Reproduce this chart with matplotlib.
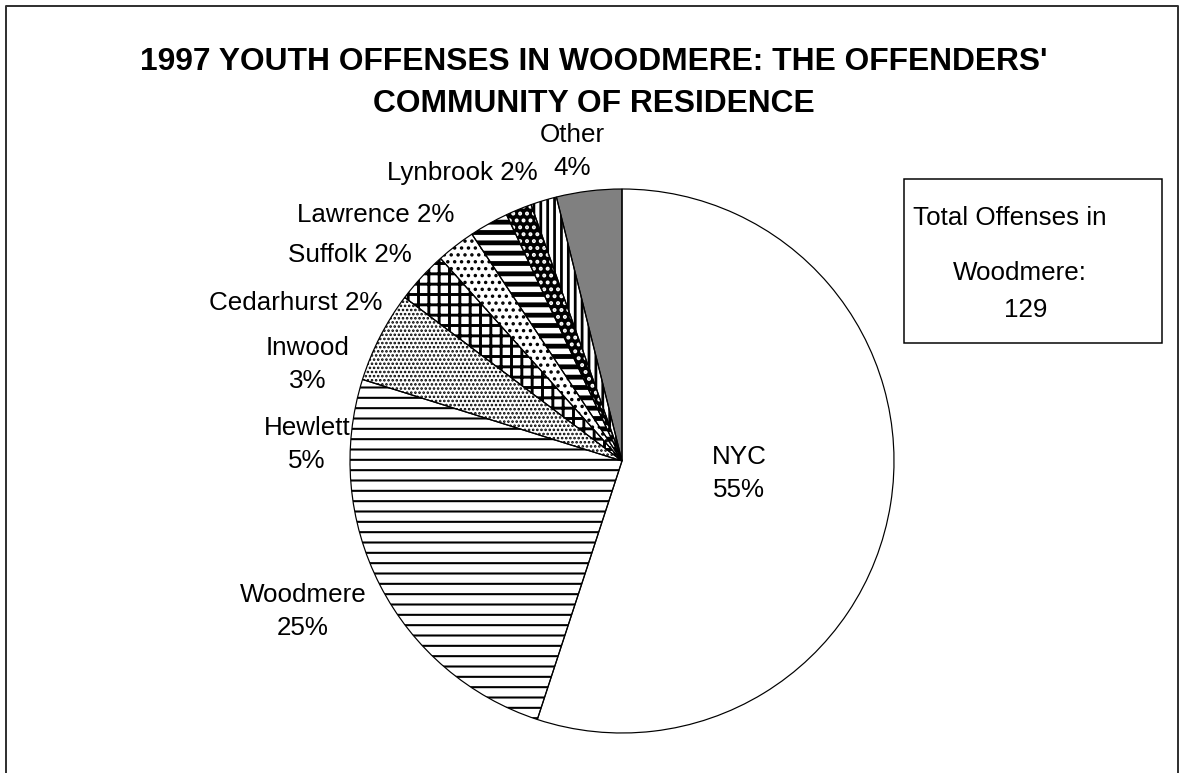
import matplotlib.pyplot as plt
from matplotlib.patches import Rectangle
from matplotlib.lines import Line2D

# data (counts out of 129 offenses)
communities = ['NYC', 'Woodmere', 'Hewlett', 'Inwood', 'Cedarhurst',
               'Suffolk', 'Lawrence', 'Lynbrook', 'Other']
offenses = [71, 32, 7, 4, 3, 3, 2, 2, 5]
pct_labels = ['55%', '25%', '5%', '3%', '2%', '2%', '2%', '2%', '4%']
total_offenses = 129
title = "1997 YOUTH OFFENSES IN WOODMERE: THE OFFENDERS'\nCOMMUNITY OF RESIDENCE"

# layout (image pixels, y from top; y = baseline of the last text line)
W, H = 1180, 773
DPI = 124
PT = 72.0 / DPI
label_sep = ['\n', '\n', '\n', '\n', ' ', ' ', ' ', ' ', '\n']
label_pos = [(739, 497), (303, 635), (307, 468), (308, 388), (296, 310),
             (350, 262), (376, 222), (462, 180), (572, 175)]
hatches = [None, '--', '.....', '++', '...', '--', '...', '|||', None]
faces = ['white', 'white', 'white', 'white', 'white', 'white', 'black', 'white', '#808080']
hatch_cols = ['black'] * 6 + ['white', 'black', 'black']
hatch_lws = [1, 1.2, 1.0, 1.7, 1.2, 2.8, 1.5, 1.6, 1]

plt.rcParams['font.family'] = ['Liberation Sans', 'DejaVu Sans']

fig = plt.figure(figsize=(W / DPI, H / DPI), dpi=DPI)
ax = fig.add_axes([0, 0, 1, 1])

def Y(y):
    return H - y

center = (622, Y(461))
radius = 272

wedges, _ = ax.pie(offenses, startangle=90, counterclock=False,
                   center=center, radius=radius, frame=True,
                   wedgeprops=dict(linewidth=0))
for w, fc, hat, hc, hlw in zip(wedges, faces, hatches, hatch_cols, hatch_lws):
    w.set_facecolor(fc)
    if hat:
        w.set_hatch(hat)
    w.set_edgecolor(hc)
    if hasattr(w, 'set_hatch_linewidth'):
        w.set_hatch_linewidth(hlw)
    else:
        w._hatch_linewidth = hlw

# outlines on top
ax.pie(offenses, startangle=90, counterclock=False, center=center,
       radius=radius, frame=True,
       wedgeprops=dict(facecolor='none', edgecolor='black', linewidth=1.2 * PT))

for name, pct, sep, (x, y) in zip(communities, pct_labels, label_sep, label_pos):
    ax.text(x, Y(y), name + sep + pct, ha='center', va='baseline',
            multialignment='center', fontsize=26 * PT, linespacing=1.46)

ax.text(594, Y(112), title, ha='center', va='baseline', multialignment='center',
        fontsize=31.7 * PT, fontweight='bold', linespacing=1.52)

# total box
ax.add_patch(Rectangle((904, Y(343)), 1162 - 904, 343 - 179, facecolor='white',
                       edgecolor='black', linewidth=1.5 * PT))
ax.text(913, Y(225), 'Total Offenses in', ha='left', va='baseline', fontsize=26 * PT)
ax.text(1020, Y(280), 'Woodmere:', ha='center', va='baseline', fontsize=26 * PT)
ax.text(1026, Y(317), str(total_offenses), ha='center', va='baseline', fontsize=26 * PT)

# chart area border (bottom is cut off)
border = dict(color='#333333', linewidth=2 * PT)
ax.add_line(Line2D([6, 6, 1178, 1178], [Y(H + 5), Y(6), Y(6), Y(H + 5)], **border))

ax.set_xlim(0, W)
ax.set_ylim(0, H)
ax.set_aspect('equal')
ax.axis('off')

fig.savefig('out.png', dpi=DPI)
